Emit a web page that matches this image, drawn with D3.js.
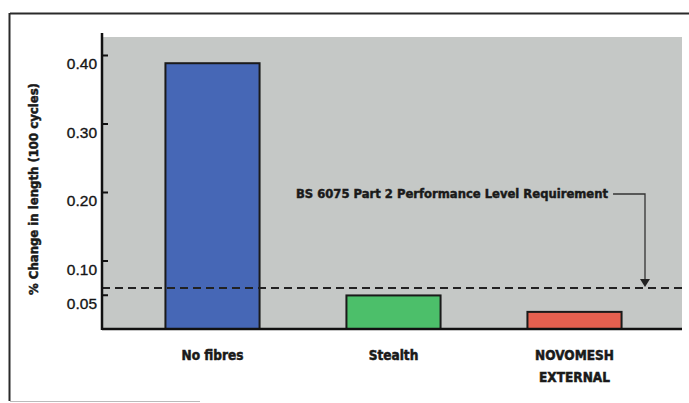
<!DOCTYPE html>
<html>
<head>
<meta charset="utf-8">
<script src="https://cdn.jsdelivr.net/npm/d3@7"></script>
<style>
  html, body { margin: 0; padding: 0; background: #fff; }
  svg { display: block; }
</style>
</head>
<body>
<svg id="chart" width="689" height="403"></svg>
<script>
// ---- data ----
const categories = ["No fibres", "Stealth", "NOVOMESH\nEXTERNAL"];
const values = [0.388, 0.049, 0.025];
const barColors = ["#4667b6", "#4cbf6a", "#e6604f"];
const tickValues = [0.05, 0.10, 0.20, 0.30, 0.40];
const tickLabels = ["0.05", "0.10", "0.20", "0.30", "0.40"];
const requirement = 0.06;
const requirementLabel = "BS 6075 Part 2 Performance Level Requirement";
const yTitle = "% Change in length (100 cycles)";

// ---- layout ----
const svg = d3.select("#chart");
const plot = { left: 102, right: 682, top: 37, bottom: 329 };

const y = d3.scaleLinear().domain([0, 0.4]).range([plot.bottom, 55]);
const x = d3.scaleBand().domain(categories).range([122, 665])
  .paddingInner(0.48).paddingOuter(0.24);

const boldFont = "'DejaVu Sans Condensed', 'DejaVu Sans', sans-serif";
const ink = "#1a1a1a";

// outer frame
svg.append("line").attr("x1", 10).attr("x2", 689).attr("y1", 13.5).attr("y2", 13.5)
  .attr("stroke", "#2a2a2a").attr("stroke-width", 2);
svg.append("line").attr("x1", 9.5).attr("x2", 9.5).attr("y1", 13).attr("y2", 401)
  .attr("stroke", "#2a2a2a").attr("stroke-width", 2);
svg.append("line").attr("x1", 10).attr("x2", 200).attr("y1", 401.5).attr("y2", 401.5)
  .attr("stroke", "#bbb").attr("stroke-width", 1);

// plot background
svg.append("rect")
  .attr("x", plot.left).attr("y", plot.top)
  .attr("width", plot.right - plot.left).attr("height", plot.bottom - plot.top)
  .attr("fill", "#c5c8c6");

// bars
svg.append("g").selectAll("rect").data(values).join("rect")
  .attr("x", (d, i) => x(categories[i]))
  .attr("y", d => y(d))
  .attr("width", x.bandwidth())
  .attr("height", d => y(0) - y(d))
  .attr("fill", (d, i) => barColors[i])
  .attr("stroke", ink).attr("stroke-width", 2);

// requirement dashed line
svg.append("line")
  .attr("x1", plot.left).attr("x2", plot.right)
  .attr("y1", y(requirement)).attr("y2", y(requirement))
  .attr("stroke", "#222").attr("stroke-width", 2)
  .attr("stroke-dasharray", "8,5");

// baseline
svg.append("line")
  .attr("x1", plot.left).attr("x2", plot.right)
  .attr("y1", y(0)).attr("y2", y(0))
  .attr("stroke", "#111").attr("stroke-width", 2.5);

// y axis
const yAxis = d3.axisLeft(y)
  .tickValues(tickValues)
  .tickFormat((d, i) => tickLabels[i])
  .tickSizeInner(-6).tickSizeOuter(0).tickPadding(5);
const ga = svg.append("g").attr("transform", `translate(${plot.left},0)`).call(yAxis);
ga.select(".domain").remove();
ga.selectAll(".tick line").attr("stroke", "#111").attr("stroke-width", 2);
ga.selectAll(".tick text")
  .attr("dy", "0.9em")
  .attr("font-family", "'Liberation Sans', Arial, sans-serif")
  .attr("font-size", 15.5)
  .attr("fill", "#151515")
  .attr("stroke", "#151515").attr("stroke-width", 0.35);
svg.append("line")
  .attr("x1", plot.left).attr("x2", plot.left)
  .attr("y1", plot.top - 4).attr("y2", y(0) + 1)
  .attr("stroke", "#111").attr("stroke-width", 2.5);

// y title
svg.append("text")
  .attr("transform", `translate(38,189) rotate(-90)`)
  .attr("text-anchor", "middle")
  .attr("font-family", boldFont).attr("font-weight", "bold")
  .attr("font-size", 13).attr("fill", ink)
  .attr("stroke", ink).attr("stroke-width", 0.5)
  .text(yTitle);

// category labels
const lab = svg.append("g").selectAll("text").data(categories).join("text")
  .attr("x", d => x(d) + x.bandwidth() / 2)
  .attr("y", 360)
  .attr("text-anchor", "middle")
  .attr("font-family", boldFont).attr("font-weight", "bold")
  .attr("font-size", 13.5).attr("fill", ink)
  .attr("stroke", ink).attr("stroke-width", 0.5);
lab.selectAll("tspan").data(d => d.split("\n")).join("tspan")
  .attr("x", function () { return this.parentNode.getAttribute("x"); })
  .attr("dy", (d, i) => i === 0 ? 0 : 22)
  .text(d => d);

// annotation
const annX = 296, annY = 198;
const ann = svg.append("text")
  .attr("x", annX).attr("y", annY)
  .attr("font-family", boldFont).attr("font-weight", "bold")
  .attr("font-size", 12.9).attr("fill", ink)
  .attr("stroke", ink).attr("stroke-width", 0.45)
  .text(requirementLabel);
const annEnd = annX + ann.node().getComputedTextLength();
const arrowX = 645;
const arrowTip = y(requirement) - 1;
svg.append("path")
  .attr("d", `M${annEnd + 5},${annY - 4} H${arrowX} V${arrowTip - 6}`)
  .attr("fill", "none").attr("stroke", "#333").attr("stroke-width", 1.3);
svg.append("path")
  .attr("d", `M${arrowX - 5},${arrowTip - 8} L${arrowX + 5},${arrowTip - 8} L${arrowX},${arrowTip} Z`)
  .attr("fill", "#222");
</script>
</body>
</html>
